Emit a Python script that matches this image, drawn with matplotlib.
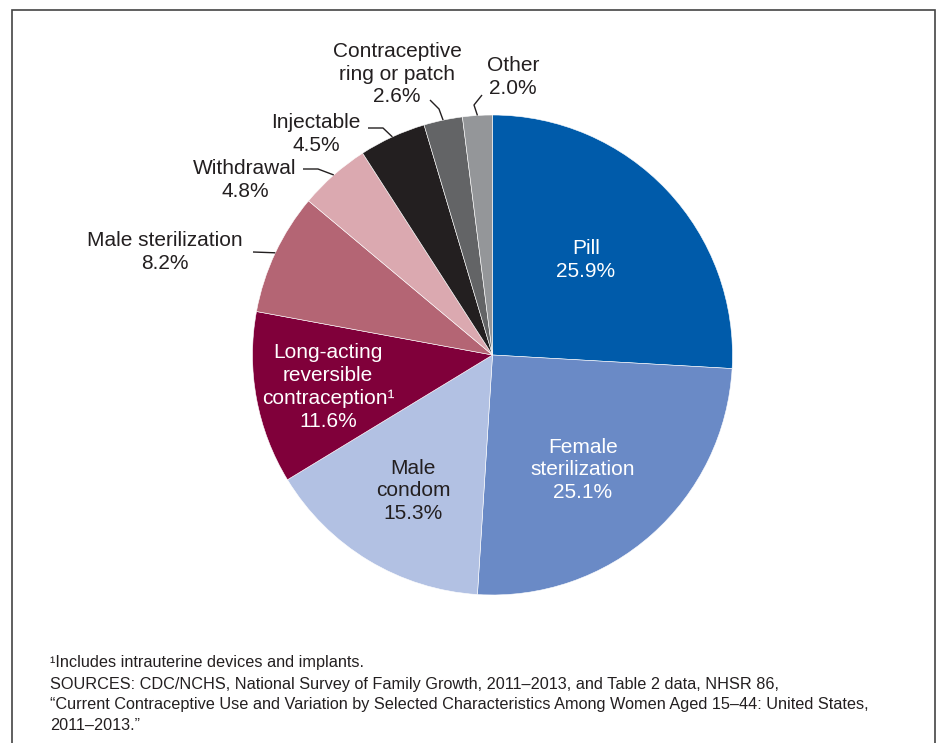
import numpy as np
import matplotlib
matplotlib.use("Agg")
import matplotlib.pyplot as plt
from matplotlib import font_manager
from matplotlib.patches import Rectangle

# -------------------------
# Data
# -------------------------
methods = [
    "Pill",
    "Female\nsterilization",
    "Male\ncondom",
    "Long-acting\nreversible\ncontraception\u00b9",
    "Male sterilization",
    "Withdrawal",
    "Injectable",
    "Contraceptive\nring or patch",
    "Other",
]
shares = [25.9, 25.1, 15.3, 11.6, 8.2, 4.8, 4.5, 2.6, 2.0]
colors = ["#005BAA", "#6A8AC6", "#B2C1E3", "#80003A", "#B46574",
          "#DBA9B0", "#231F20", "#636466", "#949699"]

footnotes = [
    "\u00b9Includes intrauterine devices and implants.",
    "SOURCES: CDC/NCHS, National Survey of Family Growth, 2011\u20132013, and Table 2 data, NHSR 86,",
    "\u201cCurrent Contraceptive Use and Variation by Selected Characteristics Among Women Aged 15\u201344: United States,",
    "2011\u20132013.\u201d",
]

# -------------------------
# Fonts
# -------------------------
names = {f.name for f in font_manager.fontManager.ttflist}
main_font = "Liberation Sans"
foot_font = "Liberation Sans Narrow" if "Liberation Sans Narrow" in names else "Liberation Sans"
plt.rcParams["font.family"] = [main_font, "DejaVu Sans"]

W, H = 945, 743

def Y(py):
    # pixel row (from top) -> data y
    return H - py

fig = plt.figure(figsize=(W / 100, H / 100), dpi=100)
ax = fig.add_axes([0, 0, 1, 1])

cx, cy, r = 492.5, Y(355), 240
wedges, _ = ax.pie(shares, colors=colors, startangle=90, counterclock=False,
                   center=(cx, cy), radius=r, frame=True,
                   wedgeprops=dict(edgecolor="white", linewidth=0.4))
ax.set_xlim(0, W)
ax.set_ylim(0, H)
ax.set_aspect("equal")
ax.axis("off")

# frame (bottom edge runs off the canvas, as in the source)
ax.add_patch(Rectangle((12, Y(760)), 923, 750, fill=False, edgecolor="#444444", lw=1.2))

fs = 15
ls = 1.25

# inside labels: (x px, y px, text colour)
inside = {
    0: (586, 260, "white"),
    1: (583, 470, "white"),
    2: (413, 491, "#231F20"),
    3: (328, 387, "white"),
}
for i, (px, py, c) in inside.items():
    ax.text(px, Y(py), f"{methods[i]}\n{shares[i]:.1f}%", ha="center", va="center",
            fontsize=fs, color=c, linespacing=ls)

# outside labels with leader lines: label centre, elbow points (px)
outside = {
    4: ((165, 252), [(253, 252)]),
    5: ((245, 180), [(303, 169), (318, 169)]),
    6: ((316, 134), [(368, 128), (383, 128)]),
    7: ((397, 74), [(430, 100), (439, 109)]),
    8: ((513, 77), [(482, 95), (474, 105)]),
}
for i, ((tx, ty), pts) in outside.items():
    ax.text(tx, Y(ty), f"{methods[i]}\n{shares[i]:.1f}%", ha="center", va="center",
            fontsize=fs, color="#231F20", linespacing=ls)
    w = wedges[i]
    mid = np.deg2rad((w.theta1 + w.theta2) / 2)
    ex, ey = cx + r * np.cos(mid), cy + r * np.sin(mid)
    xs = [p[0] for p in pts] + [ex]
    ys = [Y(p[1]) for p in pts] + [ey]
    ax.plot(xs, ys, color="#231F20", lw=1.0, solid_capstyle="butt")

for k, line in enumerate(footnotes):
    ax.text(50, Y(663 + k * 21), line, ha="left", va="center", fontsize=11.7,
            family=[foot_font, "DejaVu Sans"], color="#231F20")

fig.savefig("out.png", dpi=100)
